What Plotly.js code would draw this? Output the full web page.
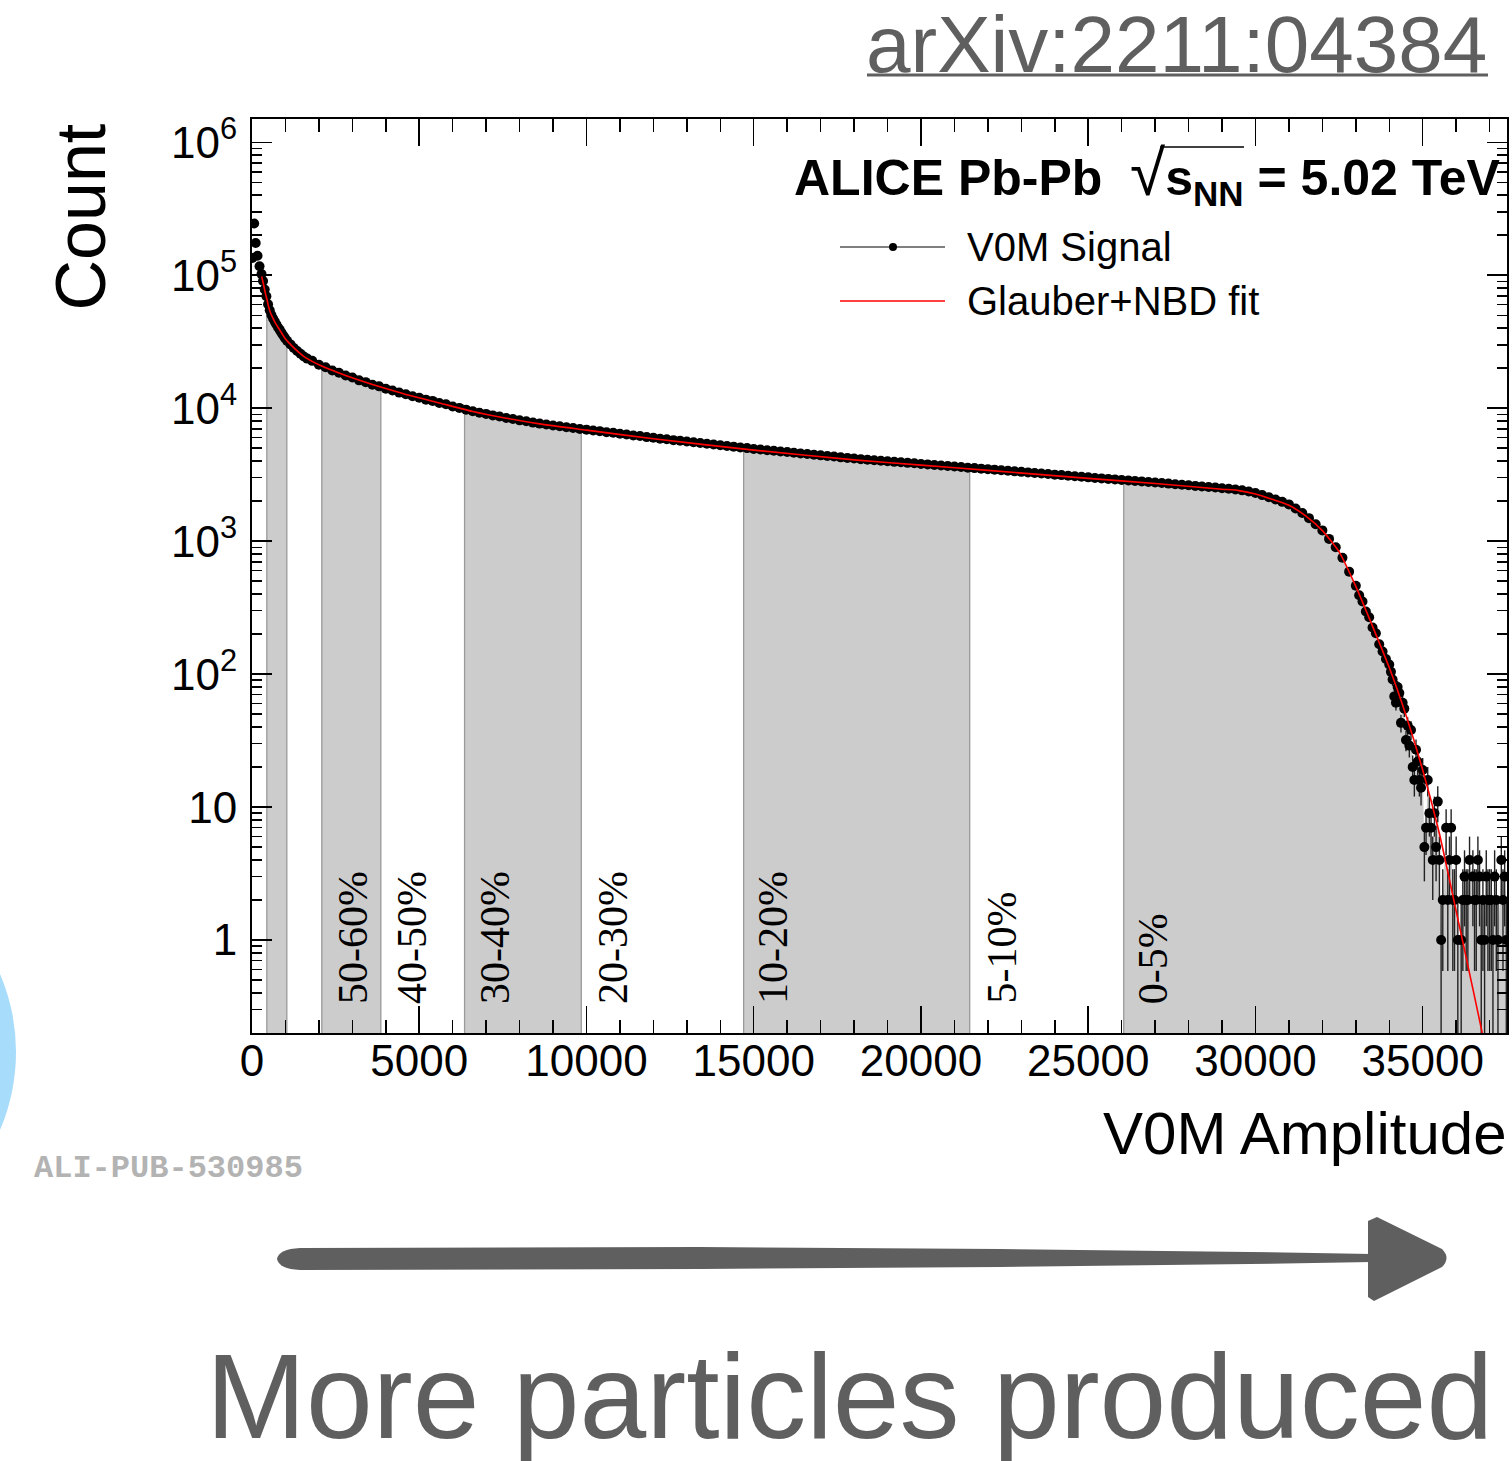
<!DOCTYPE html>
<html>
<head>
<meta charset="utf-8">
<script src="https://cdn.plot.ly/plotly-3.0.1.min.js"></script>
<style>html,body{margin:0;padding:0;background:#fff;}#chart{width:1512px;height:1461px;}</style>
</head>
<body>
<div id="chart"></div>
<script>
// ---------------- data ----------------
const sigX = [
  10,65,110,165,225,285,330,380,430,480,
  530,580,630,680,730,780,830,880,930,980,
  1050,1150,1250,1350,1450,1550,1650,
  1800,2000,2200,2400,2600,2800,3000,3200,3400,3600,
  3800,4000,4200,4400,4600,4800,5000,5200,5400,5600,
  5800,6000,6200,6400,6600,6800,7000,7200,7400,7600,
  7800,8000,8200,8400,8600,8800,9000,9200,9400,9600,
  9800,10000,10200,10400,10600,10800,11000,11200,11400,11600,
  11800,12000,12200,12400,12600,12800,13000,13200,13400,13600,
  13800,14000,14200,14400,14600,14800,15000,15200,15400,15600,
  15800,16000,16200,16400,16600,16800,17000,17200,17400,17600,
  17800,18000,18200,18400,18600,18800,19000,19200,19400,19600,
  19800,20000,20200,20400,20600,20800,21000,21200,21400,21600,
  21800,22000,22200,22400,22600,22800,23000,23200,23400,23600,
  23800,24000,24200,24400,24600,24800,25000,25200,25400,25600,
  25800,26000,26200,26400,26600,26800,27000,27200,27400,27600,
  27800,28000,28200,28400,28600,28800,29000,29200,29400,29600,
  29800,30000,30200,30400,30600,30800,31000,31200,31400,31600,
  31800,32000,32200,32400,32600,32800,33000,
  33100,33200,33300,33400,33500,33600,33700,33800,33900,
  34000,34050,34100,34150,34200,34250,34300,34350,34400,34450,
  34500,34550,34600,34650,34700,34750,34800,34850,34900,34950,
  35000,35050,35100,35150,35200,35250,35300,35350,35400,35450,
  35500,35550,35600,35700,35750,35800,35850,35900,35950,36000,
  36050,36150,36200,36250,36300,36350,36400,36500,36550,36600,
  36650,36700,36750,36800,36850,36900,36950,37000,37050,37100,
  37150,37200,37250,37350,37400,37450,37500
];
const sigY = [
  135000,245000,175000,140000,117000,102000,90500,78000,69500,60500,
  54500,50200,47300,44800,42600,40500,38800,37000,35400,33800,
  32100,30200,28400,26900,25700,24500,23600,
  22700,21200,20300,19200,18500,17600,17000,16200,15700,15000,
  14600,14000,13600,13100,12750,12300,12000,11600,11350,10950,
  10700,10300,10050,9750,9480,9250,9060,8830,8650,8440,
  8290,8100,7970,7790,7660,7540,7420,7320,7190,7100,
  6980,6900,6800,6720,6600,6530,6420,6340,6240,6170,
  6060,5990,5900,5840,5750,5690,5610,5550,5470,5410,
  5330,5270,5200,5140,5060,5010,4940,4890,4830,4780,
  4720,4680,4620,4570,4520,4470,4420,4370,4330,4270,
  4230,4180,4140,4100,4060,4030,3990,3950,3920,3880,
  3850,3810,3780,3740,3710,3670,3640,3610,3570,3545,
  3510,3480,3450,3415,3385,3350,3320,3290,3260,3225,
  3200,3165,3140,3105,3080,3050,3020,2990,2965,2940,
  2915,2885,2865,2835,2815,2785,2765,2735,2710,2680,
  2660,2630,2605,2580,2555,2530,2500,2480,2450,2410,
  2360,2300,2220,2140,2060,1975,1890,1760,1630,1490,
  1340,1205,1040,900,750,590,462,
  392,352,296,268,224,203,168,148,130,
  118,104,91,68,61,80,72,43,61,55,
  32,41,29,38,20,16,27,22,16,14,
  19,5,7,16,9,7,4,9,5,11,
  4,1,2,7,2,4,7,2,2,4,
  1,1,2,3,2,2,4,3,2,2,
  4,3,1,2,1,3,2,2,2,1,
  3,2,1,4,2,3,1
];
const fitX = [290,350,400,450,500,550,600,700,800,900,1000,1200,1400,1600,2100,2600,3100,3600,4100,4600,
  5600,6600,7600,8600,10000,12000,15000,18000,20000,22000,25000,27000,29000,29500,30000,30500,31000,31500,
  32000,32500,33000,33500,34000,34500,35000,35500,36000,36500,36780];
const fitY = [98000,84000,73000,65500,57500,52500,49000,43700,39800,36300,33100,29300,26300,24000,20650,18400,16600,15070,13800,12700,
  10960,9440,8410,7620,6840,5890,4840,4090,3730,3410,2965,2716,2460,2400,2265,2065,1862,1550,
  1200,830,457,229,112,49,19,6.3,1.65,0.43,0.2];

const bandLo = [443, 2087, 6355, 14698, 26061];
const bandHi = [1041, 3852, 9845, 21456, 37520];
const centLabels = ['50-60%','40-50%','30-40%','20-30%','10-20%','5-10%','0-5%'];
const centLabelX = [3002, 4770, 7252, 10780, 15560, 22410, 26930];

const xTickVals = [0,5000,10000,15000,20000,25000,30000,35000];
const xTickText = ['0','5000','10000','15000','20000','25000','30000','35000'];
const yTickVals = [1,10,100,1000,10000,100000,1000000];
const yTickText = ['1','10','10<sup>2</sup>','10<sup>3</sup>','10<sup>4</sup>','10<sup>5</sup>','10<sup>6</sup>'];

// ---------------- layout helpers (pixel -> paper) ----------------
const W = 1512, H = 1461, L = 252, R = 1507, T = 119, B = 1033;
const px = x => (x - L) / (R - L);
const py = y => (B - y) / (B - T);

const traces = [];
// shaded centrality bands
bandLo.forEach((lo, i) => {
  const hi = bandHi[i];
  const xs = [], ys = [];
  sigX.forEach((x, k) => { if (x >= lo && x <= hi) { xs.push(x); ys.push(sigY[k]); } });
  const fx = [lo, lo].concat(xs, [hi, hi]);
  const fy = [1e-3, ys[0]].concat(ys, [ys[ys.length - 1], 1e-3]);
  traces.push({x: fx, y: fy, type: 'scatter', mode: 'lines', fill: 'toself',
    fillcolor: '#cccccc', line: {width: 0, color: '#cccccc'}, hoverinfo: 'skip', showlegend: false});
  traces.push({x: [lo, lo, null, hi, hi], y: [1e-3, ys[0], null, 1e-3, ys[ys.length - 1]],
    type: 'scatter', mode: 'lines', line: {width: 1.3, color: '#999999'}, hoverinfo: 'skip', showlegend: false});
});
// V0M signal
const errUp = sigY.map(v => Math.sqrt(v));
const errDn = sigY.map(v => Math.min(Math.sqrt(v), v * 0.999));
traces.push({x: sigX, y: sigY, type: 'scatter', mode: 'markers', name: 'V0M Signal',
  marker: {color: '#000', size: 10},
  error_y: {type: 'data', array: errUp, arrayminus: errDn, color: '#222', thickness: 1.4, width: 0},
  showlegend: false});
// Glauber+NBD fit
traces.push({x: fitX, y: fitY, type: 'scatter', mode: 'lines', name: 'Glauber+NBD fit',
  line: {color: '#ff0000', width: 1.6, shape: 'spline', smoothing: 0.6}, showlegend: false});

const annotations = [];
centLabels.forEach((t, i) => {
  annotations.push({text: t, x: centLabelX[i], xref: 'x', y: py(1006), yref: 'paper',
    xanchor: 'center', yanchor: 'bottom', textangle: -90, showarrow: false,
    font: {family: 'Liberation Serif, serif', size: 42, color: '#000'}});
});
const sans = 'Liberation Sans, Arial, sans-serif';
annotations.push(
  {text: 'Count', x: px(81), y: py(121), xref: 'paper', yref: 'paper', xanchor: 'center', yanchor: 'top',
   textangle: -90, showarrow: false, font: {family: sans, size: 70, color: '#000'}},
  {text: 'V0M Amplitude', x: px(1509), y: py(1133), xref: 'paper', yref: 'paper', xanchor: 'right', yanchor: 'middle',
   showarrow: false, font: {family: sans, size: 60, color: '#000'}},
  {text: '<b>ALICE Pb-Pb\u00A0\u00A0</b><span style="font-size:64px">\u221A</span><b>s<sub>NN</sub> = 5.02 TeV</b>', x: px(1502), y: py(175),
   xref: 'paper', yref: 'paper', xanchor: 'right', yanchor: 'middle', showarrow: false,
   font: {family: sans, size: 50, color: '#000'}},
  {text: 'V0M Signal', x: px(965), y: py(247), xref: 'paper', yref: 'paper', xanchor: 'left', yanchor: 'middle',
   showarrow: false, font: {family: sans, size: 40, color: '#000'}},
  {text: 'Glauber+NBD fit', x: px(965), y: py(301), xref: 'paper', yref: 'paper', xanchor: 'left', yanchor: 'middle',
   showarrow: false, font: {family: sans, size: 40, color: '#000'}},
  {text: 'arXiv:2211:04384', x: px(864), y: py(45), xref: 'paper', yref: 'paper', xanchor: 'left', yanchor: 'middle',
   showarrow: false, font: {family: sans, size: 80, color: '#5f5f5f'}},
  {text: 'ALI-PUB-530985', x: px(32), y: py(1168), xref: 'paper', yref: 'paper', xanchor: 'left', yanchor: 'middle',
   showarrow: false, font: {family: 'Liberation Mono, Courier New, monospace', size: 32, color: '#b3b3b3', weight: 'bold'}},
  {text: 'More particles produced', x: px(204), y: py(1396), xref: 'paper', yref: 'paper', xanchor: 'left', yanchor: 'middle',
   showarrow: false, font: {family: sans, size: 120, color: '#5f5f5f'}}
);

function pathPx(pts) {
  return pts.map(p => {
    const c = p[0]; const nums = [];
    for (let i = 1; i < p.length; i += 2) nums.push(px(p[i]).toFixed(5) + ',' + py(p[i + 1]).toFixed(5));
    return c + nums.join(' ');
  }).join(' ') + ' Z';
}
const grey = '#5f5f5f';
const shapes = [
  {type: 'line', xref: 'paper', yref: 'paper', x0: px(840), x1: px(945), y0: py(247), y1: py(247), line: {color: '#000', width: 1}},
  {type: 'circle', xref: 'paper', yref: 'paper', x0: px(889), x1: px(897), y0: py(251), y1: py(243), fillcolor: '#000', line: {width: 0}},
  {type: 'line', xref: 'paper', yref: 'paper', x0: px(840), x1: px(945), y0: py(301), y1: py(301), line: {color: '#ff0000', width: 1.5}},
  {type: 'line', xref: 'paper', yref: 'paper', x0: px(1160), x1: px(1244), y0: py(147), y1: py(147), line: {color: '#000', width: 1.5}},
  {type: 'line', xref: 'paper', yref: 'paper', x0: px(867), x1: px(1488), y0: py(75), y1: py(75), line: {color: grey, width: 3}},
  {type: 'circle', xref: 'paper', yref: 'paper', x0: px(-380), x1: px(16), y0: py(1250), y1: py(854), fillcolor: '#a8dcfb', line: {width: 0}, layer: 'below'},
  {type: 'path', xref: 'paper', yref: 'paper', fillcolor: grey, line: {width: 0},
   path: pathPx([['M', 277, 1259], ['Q', 279, 1249, 300, 1248], ['L', 700, 1247], ['L', 1000, 1249], ['L', 1250, 1252], ['L', 1372, 1254],
                 ['L', 1372, 1262], ['L', 1250, 1264], ['L', 1000, 1267], ['L', 700, 1269], ['L', 300, 1270], ['Q', 279, 1269, 277, 1259]])},
  {type: 'path', xref: 'paper', yref: 'paper', fillcolor: grey, line: {width: 0},
   path: pathPx([['M', 1368, 1221], ['L', 1377, 1217], ['L', 1442, 1249], ['Q', 1451, 1258, 1442, 1267], ['L', 1374, 1301], ['L', 1368, 1297]])}
];

const minorY = [];
for (let e = -1; e <= 6; e++) for (let d = 2; d <= 9; d++) minorY.push(d * Math.pow(10, e));

const layout = {
  width: W, height: H,
  margin: {l: L, r: W - R, t: T, b: H - B, pad: 0},
  paper_bgcolor: '#fff', plot_bgcolor: '#fff',
  showlegend: false,
  font: {family: sans, color: '#000'},
  xaxis: {range: [0, 37520], showgrid: false, zeroline: false, showline: true, linecolor: '#000', linewidth: 2,
    mirror: 'allticks', ticks: 'inside', ticklen: 27, tickwidth: 1.5, tickcolor: '#000',
    tickmode: 'array', tickvals: xTickVals, ticktext: xTickText,
    tickfont: {family: sans, size: 44, color: '#000'}, ticklabelstandoff: -12,
    minor: {ticks: 'inside', ticklen: 13, tickwidth: 1.5, tickcolor: '#000', dtick: 1000, tick0: 0, showgrid: false}},
  yaxis: {type: 'log', range: [Math.log10(0.2), 6.175], showgrid: false, zeroline: false, showline: true, linecolor: '#000', linewidth: 2,
    mirror: 'allticks', ticks: 'inside', ticklen: 20, tickwidth: 1.5, tickcolor: '#000',
    tickmode: 'array', tickvals: yTickVals, ticktext: yTickText,
    tickfont: {family: sans, size: 44, color: '#000'}, ticklabelstandoff: 4,
    minor: {ticks: 'inside', ticklen: 10, tickwidth: 1.5, tickcolor: '#000', tickmode: 'array', tickvals: minorY, showgrid: false}},
  annotations: annotations,
  shapes: shapes
};

Plotly.newPlot('chart', traces, layout, {displayModeBar: false, staticPlot: true});
</script>
</body>
</html>
